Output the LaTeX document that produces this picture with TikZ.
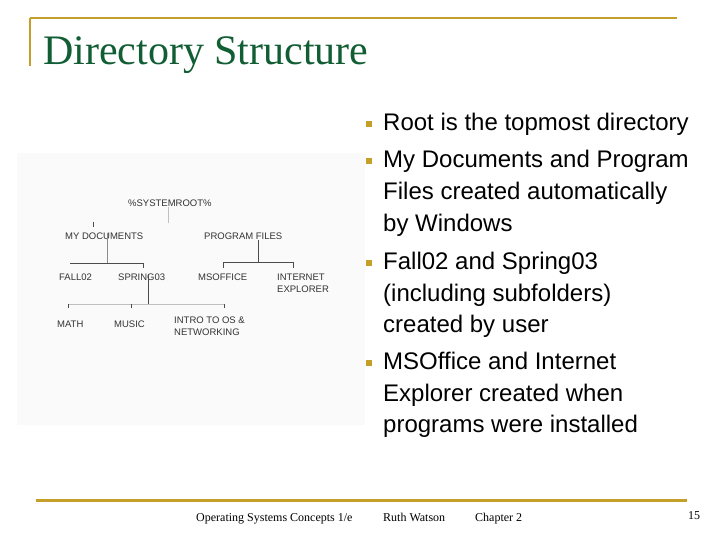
\documentclass[tikz,border=0pt]{standalone}
\usepackage{fontspec}
\setmainfont{Liberation Serif}
\setsansfont{Liberation Sans}
\usetikzlibrary{positioning,calc}
\definecolor{titlegreen}{RGB}{18,94,52}
\definecolor{slidegold}{RGB}{196,160,42}
\tikzset{
  goldln/.style={slidegold, line width=2pt},
  treelbl/.style={font=\sffamily\fontsize{9.5}{12}\selectfont, text=black!80,
    inner sep=0pt, anchor=base west, align=left},
  treeln/.style={line width=0.8pt, black!70},
  faintln/.style={line width=0.8pt, black!25},
  itemtxt/.style={font=\sffamily\fontsize{24}{31.5}\selectfont,
    inner sep=0pt, anchor=base west, align=left},
  footlbl/.style={font=\fontsize{12}{14}\selectfont, inner sep=0pt, anchor=base west},
}
\newcommand{\bulletsq}[1]{%
  \fill[slidegold] #1 ++(-3,-3) rectangle ++(6,6);
}
\begin{document}
\begin{tikzpicture}[x=1pt, y=-1pt]
    \useasboundingbox[fill=white] (0,0) rectangle (720,540);
    % frame lines
    \draw[goldln] (30,18.5) -- (677,18.5);
    \draw[goldln] (30,18.5) -- (30,66);
    \draw[slidegold, line width=3pt] (36,500.5) -- (687,500.5);
    % title
    \node[font=\fontsize{42}{48}\selectfont, text=titlegreen, inner sep=0pt,
      anchor=base west] (title) at (43,65) {Directory Structure};
    % picture area
    \fill[black!2] (17,153) rectangle (365,425);
    % tree labels (two-line ones sit on their last baseline)
    \node[treelbl] (root) at (128,206.5) {\%SYSTEMROOT\%};
    \node[treelbl] (mydocs) at (65,239.5) {MY DOCUMENTS};
    \node[treelbl] (progfiles) at (204,239.5) {PROGRAM FILES};
    \node[treelbl] (fall) at (59,280.5) {FALL02};
    \node[treelbl] (spring) at (118,280.5) {SPRING03};
    \node[treelbl] (msoffice) at (198,280.5) {MSOFFICE};
    \node[treelbl] (iexplorer) at (277,292.5) {INTERNET\\EXPLORER};
    \node[treelbl] (math) at (57,327.5) {MATH};
    \node[treelbl] (music) at (114,327.5) {MUSIC};
    \node[treelbl] (intro) at (174,335.5) {INTRO TO OS \&\\NETWORKING};
    % tree junctions
    \coordinate (rootdrop) at (168,223);
    \coordinate (mdtick) at (93,222);
    \coordinate (mdbar) at (107,263);
    \coordinate (mdleft) at (70,263);
    \coordinate (mdright) at (143,263);
    \coordinate (pfbar) at (258,262);
    \coordinate (pfleft) at (223,262);
    \coordinate (pfright) at (293,262);
    \coordinate (spbar) at (148,304);
    \coordinate (spleft) at (68,304);
    \coordinate (spmid) at (131,304);
    \coordinate (spright) at (224,304);
    % tree lines
    \draw[faintln] (root.south -| rootdrop) -- (rootdrop);
    \draw[treeln] (mdtick) -- ++(0,5);
    \draw[black!45, line width=0.8pt] (mydocs.north -| mdbar) -- (mdbar);
    \draw[treeln] (mdleft) -- (mdright) -- ++(0,5);
    \draw[treeln] (progfiles.base -| pfbar) -- (pfbar);
    \draw[treeln] ($(pfleft)+(0,6)$) -- (pfleft) -- (pfright) -- ++(0,6);
    \draw[treeln] (spring.north -| spbar) -- (spbar);
    \draw[faintln] (spleft) -- (spright);
    \foreach \c in {spleft, spmid, spright}
      \draw[treeln] (\c) -- ++(0,4);
    % bullet items: first baseline / number of lines / text
    \foreach \y/\n/\txt [count=\i] in {
        131/1/{Root is the topmost directory},
        168/3/{My Documents and Program\\Files created automatically\\by Windows},
        269.5/3/{Fall02 and Spring03\\(including subfolders)\\created by user},
        369.5/3/{MSOffice and Internet\\Explorer created when\\programs were installed}} {
      \bulletsq{(369,\y-7)}
      \node[itemtxt] (item\i) at (383,{\y+(\n-1)*31.5}) {\txt};
    }
    % footer
    \node[footlbl] (course) at (196,521) {Operating Systems Concepts 1/e};
    \node[footlbl] (author) at (383,521) {Ruth Watson};
    \node[footlbl] (chapter) at (475,521) {Chapter 2};
    \node[footlbl] (pagenum) at (688,519) {15};
  \end{tikzpicture}
\end{document}
